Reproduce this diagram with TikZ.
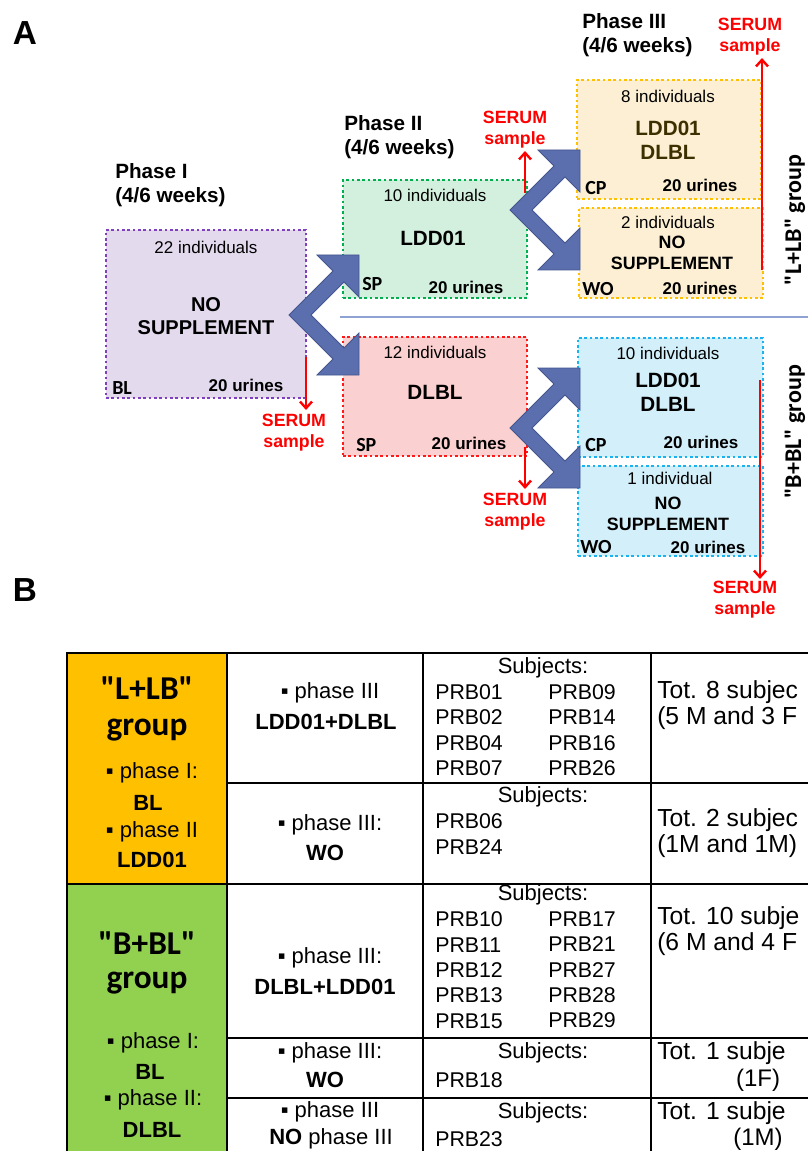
\documentclass[tikz,border=0pt]{standalone}
\usepackage{fontspec}
\setmainfont{Liberation Sans}
\newfontfamily\calfont{Carlito}
\usetikzlibrary{arrows.meta, positioning}

\definecolor{purpfill}{HTML}{E4DAEE}
\definecolor{purpline}{HTML}{7F3FBF}
\definecolor{greenfill}{HTML}{D3F0DE}
\definecolor{greenline}{HTML}{00B050}
\definecolor{pinkfill}{HTML}{FBD0D0}
\definecolor{pinkline}{HTML}{FF1A1A}
\definecolor{yellfill}{HTML}{FCEFD3}
\definecolor{yellline}{HTML}{FFC000}
\definecolor{cyanfill}{HTML}{D3F0FA}
\definecolor{cyanline}{HTML}{19B4F0}
\definecolor{forkblue}{HTML}{5B6FAE}
\definecolor{forkedge}{HTML}{44558F}
\definecolor{sepline}{HTML}{8EA2D3}
\definecolor{olive}{HTML}{3C3000}
\definecolor{lbcell}{HTML}{FFC000}
\definecolor{blcell}{HTML}{92D050}

\tikzset{
x=0.75pt, y=-0.75pt, % one unit = one pixel of the figure, y runs downwards
box/.style={rectangle, line width=2pt, dash pattern=on 2pt off 2pt, inner sep=0pt}, % dotted phase boxes
count/.style={font=\fontsize{12.75}{15}\selectfont}, % "xx individuals"
title/.style={font=\bfseries\fontsize{15.5}{18}\selectfont, align=center}, % supplement names
urines/.style={font=\bfseries\fontsize{12.75}{15}\selectfont},
tag/.style={font=\calfont\bfseries\fontsize{15}{16}\selectfont, anchor=west, inner sep=0pt},
phase/.style={font=\bfseries\fontsize{15.5}{18}\selectfont, align=left, anchor=west, inner sep=0pt},
serum/.style={font=\bfseries\fontsize{13.3}{15.75}\selectfont, text=red, align=center, inner sep=0pt},
serumarrow/.style={draw=red, line width=1.8pt, -{Straight Barb[length=5pt, width=9pt, line width=1.8pt]}},
grouplabel/.style={font=\calfont\bfseries\fontsize{18}{20}\selectfont, rotate=90, inner sep=0pt},
panel/.style={font=\bfseries\fontsize{25}{28}\selectfont, inner sep=0pt},
grid/.style={line width=1.1pt, black},
cell/.style={font=\fontsize{16.5}{19}\selectfont, inner sep=0pt}, % table text
cellb/.style={font=\bfseries\fontsize{16.5}{19}\selectfont, inner sep=0pt},
subj/.style={font=\fontsize{16}{19}\selectfont, align=left, anchor=west, inner sep=0pt},
tot/.style={font=\fontsize{18.5}{19}\selectfont, align=left, anchor=west, inner sep=0pt},
head/.style={font=\calfont\bfseries\fontsize{25}{28}\selectfont, inner sep=0pt},
forkarrow/.pic={ % the blue double arrow that splits a group in two
  \draw[fill=forkblue, draw=forkedge, line width=0.6pt]
    (0,0) -- (44,-44) -- (28,-60) -- (70,-60) -- (70,-18) -- (55,-33) -- (22,0)
    -- (55,33) -- (70,18) -- (70,60) -- (28,60) -- (44,44) -- cycle;
},
}

\begin{document}
\begin{tikzpicture}
\useasboundingbox (0,0) rectangle (808,1151);

% ---------- panel A ----------
\node[panel] (A) at (25,33) {A};

\node[phase] (ph1) at (115,185) {Phase I\\(4/6 weeks)};
\node[phase] (ph2) at (344,137) {Phase II\\(4/6 weeks)};
\node[phase] (ph3) at (582,35) {Phase III\\(4/6 weeks)};

% phase I
\node[box, draw=purpline, fill=purpfill, minimum width=150pt, minimum height=126pt] (p1) at (206,314) {};
\node[count] (p1n) at (206,247) {22 individuals};
\node[title, font=\bfseries\fontsize{15}{17.25}\selectfont] (p1t) at (206,316) {NO\\SUPPLEMENT};
\node[tag] (p1tag) at (112,388) {BL};
\node[urines] (p1u) at (246,385) {20 urines};

% phase II
\node[box, draw=greenline, fill=greenfill, minimum width=138pt, minimum height=88.5pt] (p2a) at (435,239) {};
\node[count] (p2an) at (435,195) {10 individuals};
\node[title] (p2at) at (433,238) {LDD01};
\node[tag] (p2atag) at (362,284) {SP};
\node[urines] (p2au) at (466,287) {20 urines};

\node[box, draw=pinkline, fill=pinkfill, minimum width=138pt, minimum height=89.25pt] (p2b) at (435,396.5) {};
\node[count] (p2bn) at (435,352) {12 individuals};
\node[title] (p2bt) at (435,392) {DLBL};
\node[tag] (p2btag) at (356,445) {SP};
\node[urines] (p2bu) at (469,443) {20 urines};

% phase III, "L+LB" group
\node[box, draw=yellline, fill=yellfill, minimum width=138pt, minimum height=89.25pt] (p3a) at (669,139.5) {};
\node[count] (p3an) at (668,96) {8 individuals};
\node[title, text=olive] (p3at) at (668,140) {LDD01\\DLBL};
\node[tag] (p3atag) at (585,188) {CP};
\node[urines] (p3au) at (700,185) {20 urines};

\node[box, draw=yellline, fill=yellfill, minimum width=138pt, minimum height=67.5pt] (p3b) at (671,253) {};
\node[count] (p3bn) at (668,222) {2 individuals};
\node[title, font=\bfseries\fontsize{13.4}{15.75}\selectfont] (p3bt) at (672,253) {NO\\SUPPLEMENT};
\node[tag] (p3btag) at (582,289) {WO};
\node[urines] (p3bu) at (700,288) {20 urines};

% phase III, "B+BL" group
\node[box, draw=cyanline, fill=cyanfill, minimum width=138.75pt, minimum height=89.25pt] (p3c) at (670.5,397.5) {};
\node[count] (p3cn) at (668,353) {10 individuals};
\node[title] (p3ct) at (668,392) {LDD01\\DLBL};
\node[tag] (p3ctag) at (585,445) {CP};
\node[urines] (p3cu) at (701,442) {20 urines};

\node[box, draw=cyanline, fill=cyanfill, minimum width=138.75pt, minimum height=67.5pt] (p3d) at (670.5,511) {};
\node[count] (p3dn) at (670,478) {1 individual};
\node[title, font=\bfseries\fontsize{13.4}{15.75}\selectfont] (p3dt) at (668,514) {NO\\SUPPLEMENT};
\node[tag] (p3dtag) at (580,547) {WO};
\node[urines] (p3du) at (708,547) {20 urines};

% line between the two groups
\draw[sepline, line width=1.2pt] (340,317) -- (808,317);

% split arrows
\pic at (289,315) {forkarrow};
\pic at (510,210) {forkarrow};
\pic at (510,428) {forkarrow};

% serum samples
\node[serum] (s1) at (294,433) {SERUM\\sample};
\node[serum] (s2) at (515,130) {SERUM\\sample};
\node[serum] (s3) at (515,512) {SERUM\\sample};
\node[serum] (s4) at (750,37) {SERUM\\sample};
\node[serum] (s5) at (745,600) {SERUM\\sample};

\coordinate (s1from) at (306,357);  \coordinate (s1to) at (306,410);
\coordinate (s2from) at (525,193);  \coordinate (s2to) at (525,151);
\coordinate (s3from) at (525,447);  \coordinate (s3to) at (525,489);
\coordinate (s4from) at (762,270);  \coordinate (s4to) at (762,58);
\coordinate (s5from) at (760,380);  \coordinate (s5to) at (760,579);
\draw[serumarrow] (s1from) -- (s1to);
\draw[serumarrow] (s2from) -- (s2to);
\draw[serumarrow] (s3from) -- (s3to);
\draw[serumarrow] (s4from) -- (s4to);
\draw[serumarrow] (s5from) -- (s5to);

\node[grouplabel] (glb) at (795,220) {"L+LB" group};
\node[grouplabel] (gbl) at (795,432) {"B+BL" group};

% ---------- panel B ----------
\node[panel] (B) at (25,590) {B};

\fill[lbcell] (67,653) rectangle (227,884);
\fill[blcell] (67,884) rectangle (227,1151);
\draw[grid] (67,1151) -- (67,653) -- (808,653);
\draw[grid] (227,653) -- (227,1151);
\draw[grid] (423,653) -- (423,1151);
\draw[grid] (651,653) -- (651,1151);
\draw[grid] (227,783) -- (808,783);
\draw[grid] (67,884) -- (808,884);
\draw[grid] (227,1038) -- (808,1038);
\draw[grid] (227,1098) -- (808,1098);

% first column
\node[head] (lbh1) at (147,688) {"L+LB"};
\node[head] (lbh2) at (147,730) {group};
\node[cell] (lbp1) at (152,773) {▪ phase I:};
\node[cellb] (lbv1) at (148,803) {BL};
\node[cell] (lbp2) at (152,832) {▪ phase II};
\node[cellb] (lbv2) at (152,860) {LDD01};

\node[head] (blh1) at (147,943) {"B+BL"};
\node[head] (blh2) at (147,983) {group};
\node[cell] (blp1) at (153,1043) {▪ phase I:};
\node[cellb] (blv1) at (150,1072) {BL};
\node[cell] (blp2) at (153,1100) {▪ phase II:};
\node[cellb] (blv2) at (152,1130) {DLBL};

% second column
\node[cell] (r1p) at (330,693) {▪ phase III};
\node[cellb] (r1v) at (326,722) {LDD01+DLBL};
\node[cell] (r2p) at (330,825) {▪ phase III:};
\node[cellb] (r2v) at (325,853) {WO};
\node[cell] (r3p) at (330,958) {▪ phase III:};
\node[cellb] (r3v) at (325,987) {DLBL+LDD01};
\node[cell] (r4p) at (330,1053) {▪ phase III:};
\node[cellb] (r4v) at (325,1080) {WO};
\node[cell] (r5p) at (330,1112) {▪ phase III};
\node[cell] (r5v) at (331,1139) {\textbf{NO} phase III};

% third column
\node[cell] (r1s) at (543,668) {Subjects:};
\node[subj] (r1a) at (435,730) {PRB01\\PRB02\\PRB04\\PRB07};
\node[subj] (r1b) at (548,730) {PRB09\\PRB14\\PRB16\\PRB26};
\node[cell] (r2s) at (543,797) {Subjects:};
\node[subj] (r2a) at (435,834) {PRB06\\PRB24};
\node[cell] (r3s) at (543,895) {Subjects:};
\node[subj] (r3a) at (435,970) {PRB10\\PRB11\\PRB12\\PRB13\\PRB15};
\node[subj] (r3b) at (548,970) {PRB17\\PRB21\\PRB27\\PRB28\\PRB29};
\node[cell] (r4s) at (543,1053) {Subjects:};
\node[subj] (r4a) at (435,1080) {PRB18};
\node[cell] (r5s) at (543,1113) {Subjects:};
\node[subj] (r5a) at (435,1139) {PRB23};

% fourth column
\node[tot] (r1t) at (657,705) {Tot. 8 subjec\\(5 M and 3 F};
\node[tot] (r2t) at (657,833) {Tot. 2 subjec\\(1M and 1M)};
\node[tot] (r3t) at (657,931) {Tot. 10 subje\\(6 M and 4 F};
\node[tot] (r4t) at (657,1053) {Tot. 1 subje};
\node[cell, font=\fontsize{18}{19}\selectfont] (r4g) at (758,1080) {(1F)};
\node[tot] (r5t) at (657,1113) {Tot. 1 subje};
\node[cell, font=\fontsize{18}{19}\selectfont] (r5g) at (758,1139) {(1M)};
\end{tikzpicture}
\end{document}
